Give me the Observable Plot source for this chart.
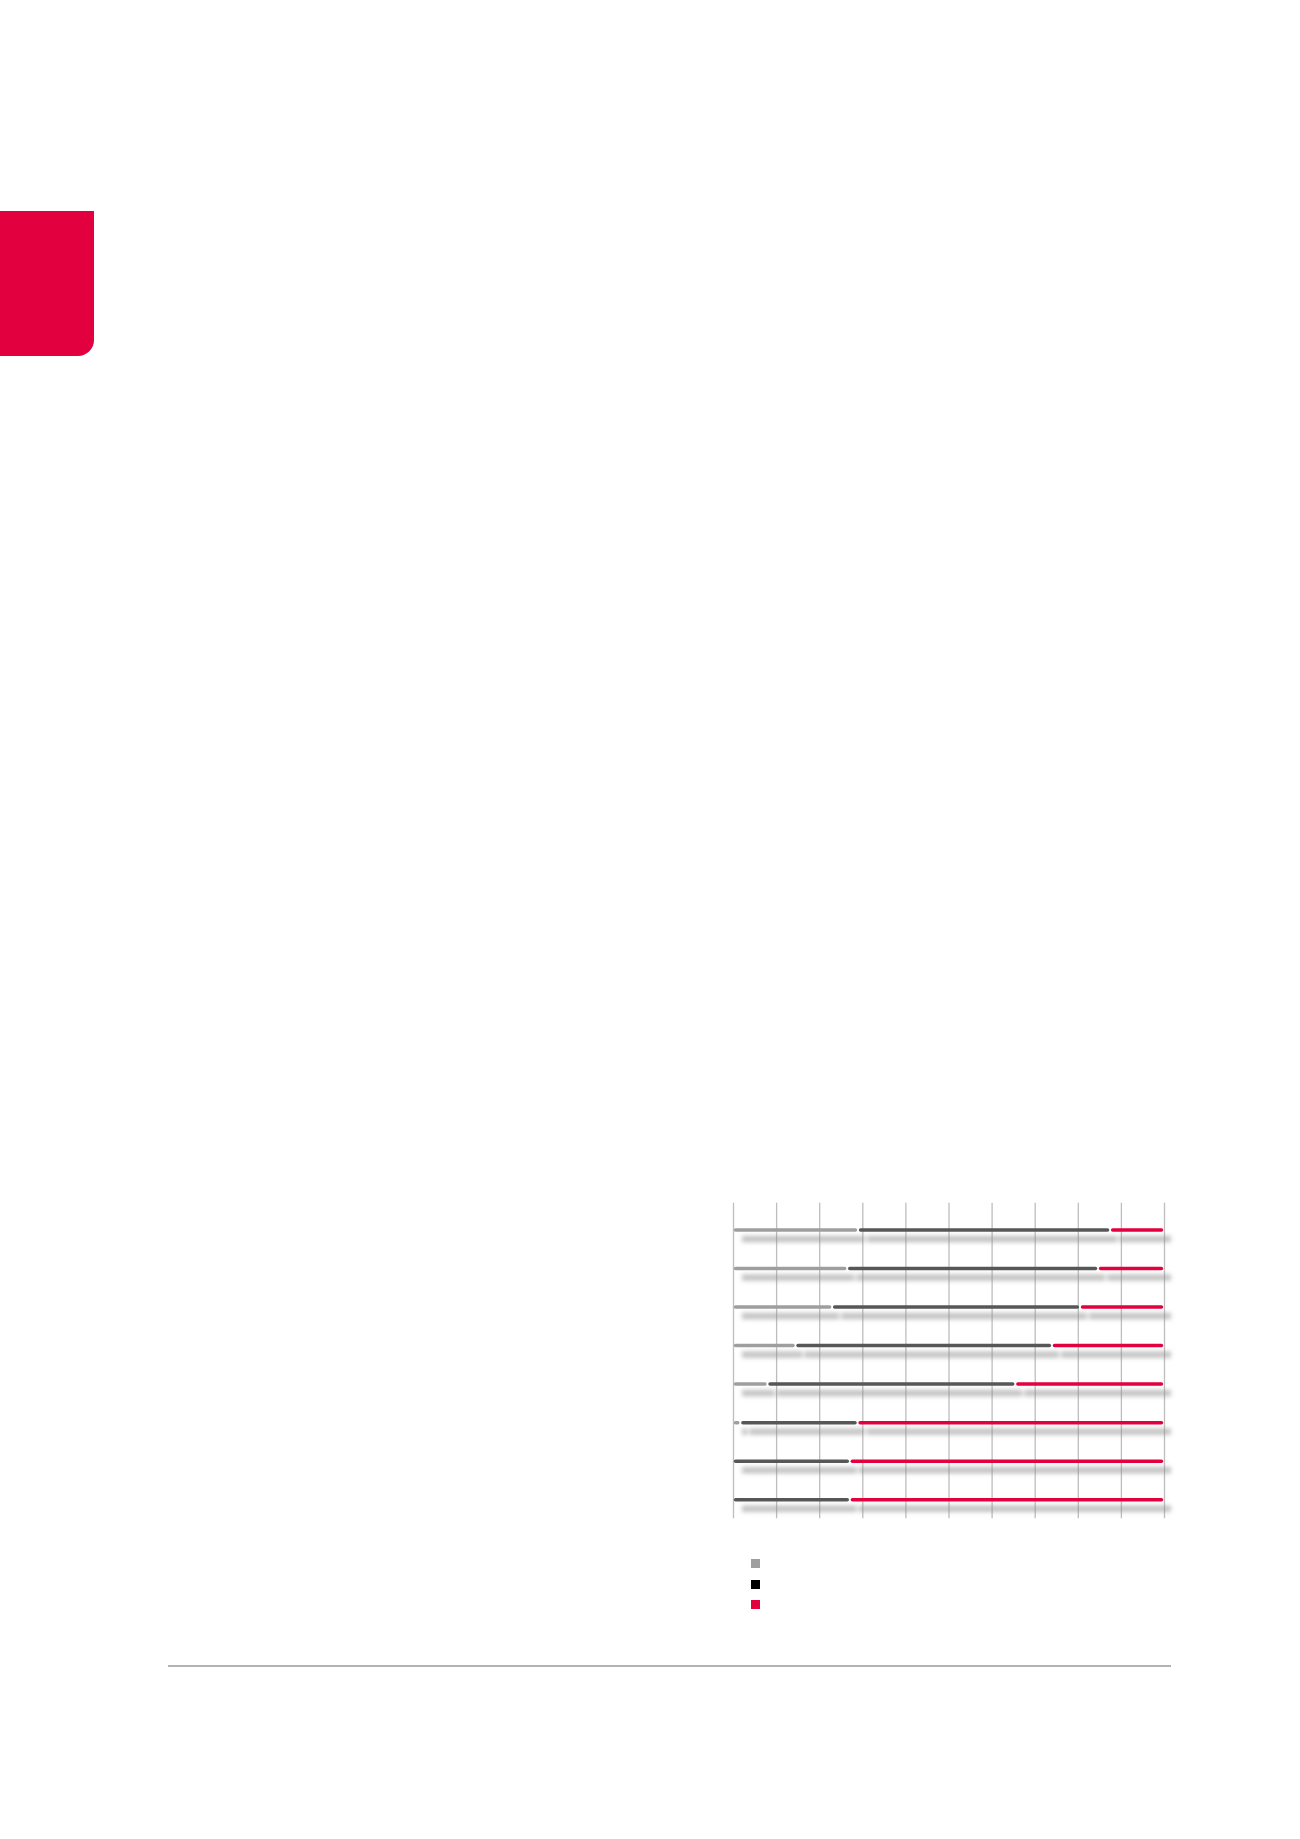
<!DOCTYPE html>
<html>
<head>
<meta charset="utf-8">
<script src="https://cdn.jsdelivr.net/npm/d3@7"></script>
<script src="https://cdn.jsdelivr.net/npm/@observablehq/plot@0.6"></script>
<style>
html, body { margin: 0; padding: 0; background: #ffffff; width: 1300px; height: 1839px; overflow: hidden; font-family: "Open Sans", sans-serif; }
#tab { position: absolute; left: 0; top: 211px; width: 94px; height: 145px; background: #e2003f; border-bottom-right-radius: 16px; }
#chart { position: absolute; left: 700px; top: 1190px; }
#legend { position: absolute; left: 751px; top: 1559px; }
.sw { display: block; width: 9px; height: 9px; margin-bottom: 11.5px; }
#rule { position: absolute; left: 168px; top: 1665px; width: 1003px; height: 2px; background: #b3b3b3; }
</style>
</head>
<body>
<div id="tab"></div>
<div id="chart"></div>
<div id="legend"></div>
<div id="rule"></div>
<script>
// Categories (row labels are not legible in the reference)
const rows = ["r1", "r2", "r3", "r4", "r5", "r6", "r7", "r8"];
// Series names (legend text not legible in the reference)
const seriesNames = ["s1", "s2", "s3"];
// Series values, percent of row
const lightValues = [29, 26.5, 23, 14.5, 8, 1.7, 0, 0];
const darkValues  = [58.5, 58.2, 57.5, 59.5, 57.5, 27.2, 27.1, 27.1];
const redValues   = [12.5, 15.3, 19.5, 26, 34.5, 71.1, 72.9, 72.9];
// x grid ticks
const xTicks = [0, 10, 20, 30, 40, 50, 60, 70, 80, 90, 100];

const barColors = ["#9e9e9e", "#575757", "#e3003f"];
const legendColors = ["#9e9e9e", "#000000", "#e3003f"];

const seriesValues = [lightValues, darkValues, redValues];
const data = [];
rows.forEach((r, i) => {
  seriesValues.forEach((vals, s) => {
    if (vals[i] > 0) data.push({row: r, series: seriesNames[s], value: vals[i]});
  });
});

const svg = Plot.plot({
  width: 500,
  height: 340,
  marginLeft: 33,
  marginRight: 36,
  marginTop: 12.7,
  marginBottom: 11.7,
  style: {overflow: "visible", background: "transparent"},
  x: {domain: [0, 100], axis: null},
  y: {type: "band", domain: rows, range: [20.75, 328.95], paddingInner: 0.909, paddingOuter: 0.4545, round: false, axis: null},
  color: {domain: seriesNames, range: barColors},
  marks: [
    Plot.ruleX(xTicks, {stroke: "#bdbdbd", strokeWidth: 1.3}),
    Plot.barX(data, Plot.stackX({x: "value", y: "row", fill: "#8a8a8a", fillOpacity: 0.5,
      insetTop: -1.5, insetBottom: -1.5, insetLeft: 1, insetRight: 1, dx: 8, dy: 9})),
    Plot.barX(data, Plot.stackX({x: "value", y: "row", fill: "series",
      insetLeft: 0.8, insetRight: 0.8, rx: 1.75}))
  ]
});

const s = d3.select(svg);
s.append("defs").append("filter")
  .attr("id", "shadowBlur")
  .attr("filterUnits", "userSpaceOnUse")
  .attr("x", -50).attr("y", -50).attr("width", 600).attr("height", 440)
  .append("feGaussianBlur").attr("stdDeviation", 2.2);
const barGroups = s.selectAll('g[aria-label="bar"]').nodes();
if (barGroups.length) d3.select(barGroups[0]).attr("filter", "url(#shadowBlur)");

document.getElementById("chart").appendChild(svg);

const legend = document.getElementById("legend");
seriesNames.forEach((name, i) => {
  const sw = document.createElement("span");
  sw.className = "sw";
  sw.title = name;
  sw.style.background = legendColors[i];
  legend.appendChild(sw);
});
</script>
</body>
</html>
